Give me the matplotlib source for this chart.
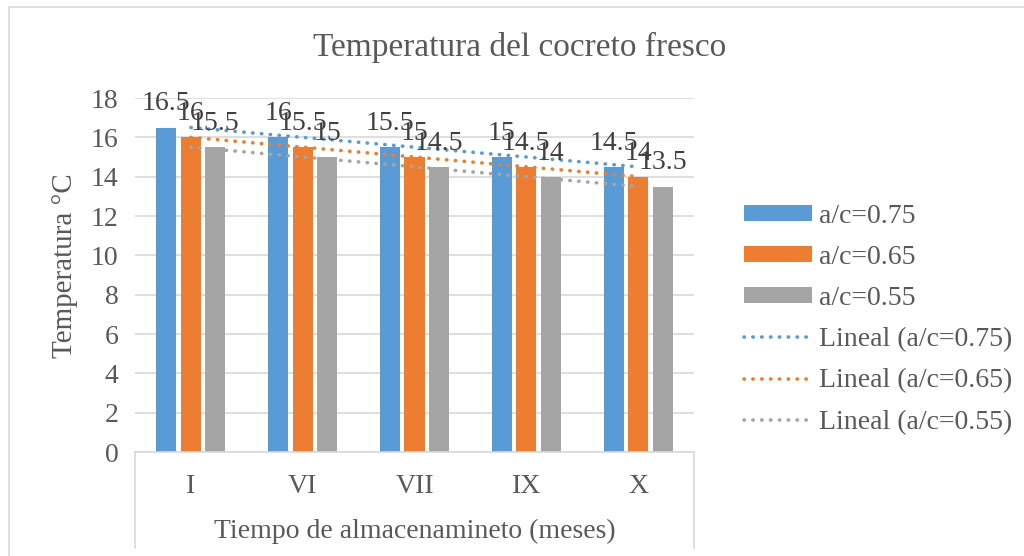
import matplotlib
matplotlib.use("Agg")
import matplotlib.pyplot as plt
from matplotlib.patches import Rectangle
from matplotlib.lines import Line2D
import numpy as np

plt.rcParams['font.family'] = ['Liberation Serif', 'DejaVu Serif']

meses = ['I', 'VI', 'VII', 'IX', 'X']
series = ['a/c=0.75', 'a/c=0.65', 'a/c=0.55']
t_075 = [16.5, 16, 15.5, 15, 14.5]
t_065 = [16, 15.5, 15, 14.5, 14]
t_055 = [15.5, 15, 14.5, 14, 13.5]
colores = ['#5B9BD5', '#ED7D31', '#A5A5A5']

W, H = 1024, 556
fig = plt.figure(figsize=(W / 100, H / 100), dpi=100)

# chart border (only top/left inside the frame)
fig.patches.append(Rectangle((9 / W, -0.1), 1.2, 1 - 7 / H + 0.1, transform=fig.transFigure,
                             fill=False, edgecolor='#D9D9D9', lw=1.2))

ax = fig.add_axes([135 / W, 1 - 452 / H, (694 - 135) / W, (452 - 98) / H])

x = np.arange(len(meses))
ancho = 0.18
paso = 0.219
datos = [t_075, t_065, t_055]
for i, (vals, col, nom) in enumerate(zip(datos, colores, series)):
    pos = x + (i - 1) * paso
    ax.bar(pos, vals, width=ancho, color=col, label=nom, zorder=2)
    for px, v in zip(pos, vals):
        ax.annotate(f'{v:g}', (px, v), xytext=(0, 8), textcoords='offset points',
                    ha='center', va='bottom', fontsize=20, color='#404040', zorder=4)

# linear trendlines over the category centres
for vals, col, nom in zip(datos, colores, series):
    m, b = np.polyfit(x, vals, 1)
    ax.plot(x, m * x + b, color=col, lw=2.6, dashes=(0.1, 2.35), dash_capstyle='round',
            label=f'Lineal ({nom})', zorder=3)

ax.set_xlim(-0.5, 4.5)
ax.set_ylim(0, 18)
ax.set_yticks(range(0, 19, 2))
ax.set_xticks(x)
ax.set_xticklabels(meses)
ax.yaxis.grid(True, color='#D9D9D9', lw=1.2)
ax.set_axisbelow(True)
for s in ['top', 'right', 'left']:
    ax.spines[s].set_visible(False)
ax.spines['bottom'].set_color('#D9D9D9')
ax.spines['bottom'].set_linewidth(1.2)
ax.tick_params(axis='both', length=0, labelsize=20, labelcolor='#595959')
ax.tick_params(axis='x', pad=16)
ax.tick_params(axis='y', pad=12)

# box around the category axis
for xf in [135, 694]:
    fig.add_artist(Line2D([xf / W, xf / W], [1 - 452 / H, 1 - 548 / H], transform=fig.transFigure,
                          color='#D9D9D9', lw=1.2))

fig.text(415 / W, 1 - 531 / H, 'Tiempo de almacenamineto (meses)', ha='center', va='center',
         fontsize=20, color='#595959')
fig.text(65 / W, 1 - 266 / H, 'Temperatura °C', ha='center', va='center', rotation=90,
         fontsize=21, color='#595959')
fig.text(520 / W, 1 - 47 / H, 'Temperatura del cocreto fresco', ha='center', va='center',
         fontsize=24, color='#595959')

h, l = ax.get_legend_handles_labels()
orden = [3, 4, 5, 0, 1, 2]
leg = fig.legend([h[i] for i in orden], [l[i] for i in orden], loc='upper left',
                 bbox_to_anchor=(744 / W, 1 - 204 / H), frameon=False, fontsize=20,
                 borderpad=0, borderaxespad=0,
                 handlelength=2.45, handleheight=0.5, labelspacing=0.58, handletextpad=0.25,
                 labelcolor='#595959')

fig.savefig('out.png', dpi=100)
